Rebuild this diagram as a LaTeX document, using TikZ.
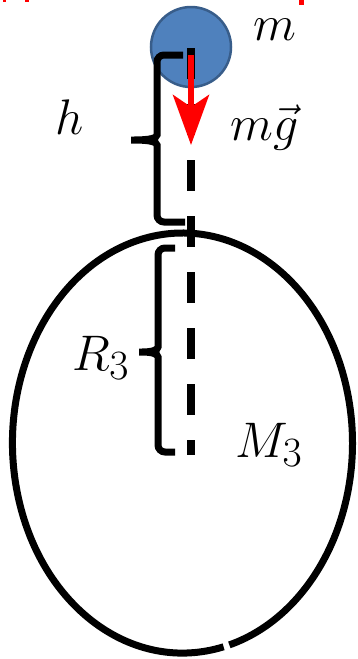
\documentclass[tikz,border=0pt]{standalone}
\usepackage{amsmath}
\usepackage{graphicx}
\usepackage{tikz}
\usetikzlibrary{arrows.meta}
\definecolor{ballblue}{RGB}{79,129,189}
\definecolor{ballrim}{RGB}{56,93,138}
\newcommand{\bigmath}[1]{\scalebox{2.01}{\Huge $#1$}}

\begin{document}
\begin{tikzpicture}[
  x=1pt, y=-1pt,
  mathlabel/.style={inner sep=0pt, anchor=base west},
  bracket/.style={line width=7pt, rounded corners=7pt},
  axisline/.style={line width=8pt, dash pattern=on 31pt off 25pt},
  force/.style={red, line width=6pt, -{Stealth[length=50pt, width=36pt, inset=12pt]}},
  planet/.style={line width=7pt}
]
\useasboundingbox (0,0) rectangle (357,659);

% red specks at the top edge
\fill[red] (3,0) rectangle (6,2);
\fill[red] (25,0) rectangle (29,2);
\fill[red] (299,0) rectangle (304,5);

% the ball
\node[circle, draw=ballrim, line width=2.5pt, fill=ballblue, minimum size=80pt, inner sep=0pt] (ball) at (191,47) {};

% the planet, open near the bottom
\coordinate (centre) at (182.5,443);
\draw[planet] (223.6,646.8) arc[start angle=76, end angle=434, x radius=170, y radius=210];

% brackets for h and R_3
\draw[bracket] (183,55) -- (157,55) -- (157,128)
  .. controls (157,138) and (150,140) .. (127,140)
  .. controls (150,140) and (157,142) .. (157,152) -- (157,222) -- (185,222);
\draw[bracket] (175,248) -- (158,248) -- (158,340)
  .. controls (158,350) and (152,352) .. (135,352)
  .. controls (152,352) and (158,354) .. (158,364) -- (158,452) -- (175,452);

% dashed axis and the weight
\coordinate (axistop) at (191,48);
\coordinate (axisend) at (191,455);
\coordinate (forcestart) at (191,55);
\coordinate (forcetip) at (191,145);
\draw[axisline] (axistop) -- (axisend);
\draw[force] (forcestart) -- (forcetip);

% labels
\node[mathlabel] (mass) at (253,40) {\bigmath{m}};
\node[mathlabel] (height) at (55,134) {\bigmath{h}};
\node[mathlabel] (weight) at (230,140) {\bigmath{m\vec{g}}};
\node[mathlabel] (radius) at (72,370) {\bigmath{R_3}};
\node[mathlabel] (bigmass) at (235,457) {\bigmath{M_3}};

\end{tikzpicture}
\end{document}
